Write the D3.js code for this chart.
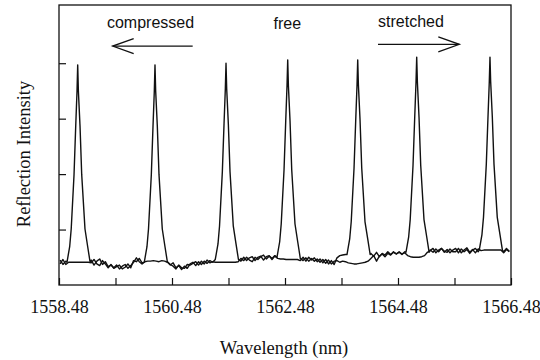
<!DOCTYPE html>
<html>
<head>
<meta charset="utf-8">
<script src="https://cdn.jsdelivr.net/npm/d3@7"></script>
<style>
  body { margin: 0; background: #fff; }
  #wrapper svg { display: block; }
</style>
</head>
<body>
<div id="wrapper"></div>
<script>
// x ticks every 1 nm, labels every 2 nm
const tickWavelengths = [1558.48, 1559.48, 1560.48, 1561.48, 1562.48, 1563.48, 1564.48, 1565.48, 1566.48];
const labelWavelengths = [1558.48, 1560.48, 1562.48, 1564.48, 1566.48];
const intensityTicks = [1, 2, 3, 4];

// baseline noise, sampled every 0.05 nm from 1558.50 nm
const baseStart = 1558.5;
const baseStep = 0.05;
const baseA = [
  0.45, 0.37, 0.43, 0.46, 0.40, 0.41, 0.41, 0.41, 0.41, 0.41, 0.41, 0.45, 0.36, 0.43, 0.47, 0.37, 0.42, 0.33, 0.36, 0.31,
  0.36, 0.29, 0.34, 0.37, 0.30, 0.35, 0.41, 0.49, 0.42, 0.38, 0.42, 0.43, 0.43, 0.44, 0.43, 0.42, 0.44, 0.43, 0.41, 0.36,
  0.40, 0.31, 0.35, 0.28, 0.34, 0.30, 0.38, 0.41, 0.35, 0.42, 0.37, 0.43, 0.39, 0.44, 0.41, 0.46, 0.46, 0.46, 0.46, 0.46,
  0.46, 0.46, 0.46, 0.46, 0.43, 0.50, 0.44, 0.49, 0.51, 0.44, 0.50, 0.52, 0.45, 0.51, 0.53, 0.46, 0.52, 0.48, 0.47, 0.47,
  0.46, 0.46, 0.46, 0.46, 0.46, 0.44, 0.50, 0.43, 0.50, 0.45, 0.49, 0.42, 0.47, 0.40, 0.46, 0.38, 0.44, 0.37, 0.49, 0.53,
  0.54, 0.55, 0.55, 0.55, 0.55, 0.55, 0.55, 0.55, 0.55, 0.55, 0.57, 0.52, 0.59, 0.51, 0.57, 0.54, 0.60, 0.55, 0.59, 0.56,
  0.60, 0.56, 0.58, 0.53, 0.51, 0.50, 0.50, 0.50, 0.51, 0.53, 0.59, 0.62, 0.66, 0.58, 0.63, 0.66, 0.59, 0.64, 0.58, 0.63,
  0.66, 0.58, 0.65, 0.60, 0.64, 0.57, 0.63, 0.66, 0.60, 0.63, 0.63, 0.63, 0.63, 0.63, 0.63, 0.63, 0.63, 0.60, 0.66, 0.61,
];
const baseB = [
  0.38, 0.46, 0.37, 0.41, 0.41, 0.41, 0.41, 0.41, 0.41, 0.41, 0.41, 0.40, 0.46, 0.38, 0.35, 0.44, 0.38, 0.31, 0.37, 0.30,
  0.33, 0.36, 0.29, 0.32, 0.38, 0.31, 0.44, 0.42, 0.48, 0.40, 0.41, 0.41, 0.41, 0.41, 0.41, 0.41, 0.41, 0.41, 0.42, 0.37,
  0.34, 0.29, 0.36, 0.31, 0.30, 0.37, 0.36, 0.39, 0.42, 0.36, 0.43, 0.38, 0.45, 0.40, 0.42, 0.41, 0.41, 0.41, 0.41, 0.41,
  0.41, 0.41, 0.41, 0.42, 0.48, 0.44, 0.50, 0.45, 0.42, 0.50, 0.46, 0.51, 0.54, 0.47, 0.52, 0.48, 0.53, 0.50, 0.50, 0.50,
  0.50, 0.50, 0.50, 0.50, 0.50, 0.48, 0.44, 0.49, 0.43, 0.48, 0.43, 0.47, 0.41, 0.46, 0.39, 0.45, 0.38, 0.43, 0.44, 0.41,
  0.43, 0.42, 0.40, 0.39, 0.38, 0.38, 0.39, 0.40, 0.41, 0.43, 0.48, 0.53, 0.43, 0.52, 0.56, 0.51, 0.57, 0.54, 0.60, 0.56,
  0.59, 0.55, 0.60, 0.59, 0.59, 0.59, 0.59, 0.59, 0.59, 0.59, 0.59, 0.63, 0.59, 0.65, 0.60, 0.66, 0.61, 0.59, 0.65, 0.60,
  0.60, 0.66, 0.58, 0.63, 0.67, 0.59, 0.64, 0.58, 0.65, 0.62, 0.63, 0.63, 0.63, 0.63, 0.63, 0.63, 0.63, 0.58, 0.64, 0.60,
];

// reflection peaks [wavelength nm, intensity]
const peak1 = [[1558.621,0.41],[1558.669,0.69],[1558.696,1.01],[1558.746,1.99],[1558.776,2.87],[1558.799,3.50],[1558.811,3.97],[1558.823,3.50],[1558.852,2.87],[1558.882,1.99],[1558.940,1.01],[1558.988,0.69],[1559.031,0.41]];
const peak2 = [[1559.989,0.41],[1560.037,0.69],[1560.064,1.01],[1560.114,1.99],[1560.144,2.87],[1560.167,3.50],[1560.179,3.97],[1560.191,3.50],[1560.220,2.87],[1560.250,1.99],[1560.308,1.01],[1560.356,0.69],[1560.399,0.41]];
const peak3 = [[1561.246,0.46],[1561.294,0.74],[1561.321,1.06],[1561.371,2.04],[1561.401,2.91],[1561.424,3.54],[1561.436,4.00],[1561.448,3.54],[1561.477,2.91],[1561.507,2.04],[1561.565,1.06],[1561.613,0.74],[1561.656,0.46]];
const peak4 = [[1562.338,0.50],[1562.386,0.78],[1562.413,1.10],[1562.463,2.08],[1562.493,2.96],[1562.516,3.60],[1562.528,4.06],[1562.540,3.60],[1562.569,2.96],[1562.599,2.08],[1562.657,1.10],[1562.705,0.78],[1562.748,0.50]];
const peak5 = [[1563.577,0.55],[1563.625,0.83],[1563.652,1.14],[1563.702,2.11],[1563.732,2.98],[1563.755,3.61],[1563.767,4.06],[1563.779,3.61],[1563.808,2.98],[1563.838,2.11],[1563.896,1.14],[1563.944,0.83],[1563.987,0.55]];
const peak6 = [[1564.621,0.59],[1564.669,0.87],[1564.696,1.18],[1564.746,2.16],[1564.776,3.03],[1564.799,3.66],[1564.811,4.11],[1564.823,3.66],[1564.852,3.03],[1564.882,2.16],[1564.940,1.18],[1564.988,0.87],[1565.031,0.59]];
const peak7 = [[1565.918,0.63],[1565.966,0.91],[1565.993,1.22],[1566.043,2.18],[1566.073,3.04],[1566.096,3.67],[1566.108,4.11],[1566.120,3.67],[1566.149,3.04],[1566.179,2.18],[1566.237,1.22],[1566.285,0.91],[1566.328,0.63]];

// annotations, in data units
const arrowCompressed = [[1560.846, 4.31], [1559.43, 4.31]];
const arrowStretched = [[1564.126, 4.34], [1565.565, 4.34]];
const labels = [
  { text: 'compressed', wl: 1560.10, v: 4.63 },
  { text: 'free', wl: 1562.52, v: 4.62 },
  { text: 'stretched', wl: 1564.71, v: 4.65 },
];

function buildTrace(base, peaks) {
  const windows = peaks.map((p) => [p[0][0], p[p.length - 1][0]]);
  const pts = base
    .map((v, i) => [baseStart + i * baseStep, v])
    .filter((d) => !windows.some((w) => d[0] >= w[0] && d[0] <= w[1]));
  return pts.concat(...peaks).sort((a, b) => a[0] - b[0]);
}

const traceA = buildTrace(baseA, [peak1, peak3, peak5, peak7]);
const traceB = buildTrace(baseB, [peak2, peak4, peak6]);

const width = 540;
let dimensions = {
  width: width,
  height: 360,
  margin: { top: 5, right: 29, bottom: 75, left: 59 },
};
dimensions.boundedWidth = dimensions.width - dimensions.margin.left - dimensions.margin.right;
dimensions.boundedHeight = dimensions.height - dimensions.margin.top - dimensions.margin.bottom;

const wrapper = d3.select('#wrapper')
  .append('svg')
  .attr('width', dimensions.width)
  .attr('height', dimensions.height);

const bounds = wrapper.append('g')
  .attr('transform', `translate(${dimensions.margin.left},${dimensions.margin.top})`);

const xScale = d3.scaleLinear()
  .domain([1558.48, 1566.48])
  .range([0, dimensions.boundedWidth]);

const yScale = d3.scaleLinear()
  .domain([0, 5.05])
  .range([dimensions.boundedHeight, 0]);

const serif = '"Liberation Serif", "DejaVu Serif", serif';
const sans = '"Liberation Sans", Arial, sans-serif';

// traces
const lineGenerator = d3.line()
  .x((d) => xScale(d[0]))
  .y((d) => yScale(d[1]));

bounds.selectAll('.trace')
  .data([traceB, traceA])
  .join('path')
  .attr('class', 'trace')
  .attr('d', lineGenerator)
  .attr('fill', 'none')
  .attr('stroke', '#111')
  .attr('stroke-width', 1.4)
  .attr('stroke-linejoin', 'round');

// axes
const xAxisGenerator = d3.axisBottom(xScale)
  .tickValues(tickWavelengths)
  .tickSize(-7)
  .tickPadding(15)
  .tickFormat((d) => labelWavelengths.some((l) => Math.abs(l - d) < 1e-6) ? d3.format('.2f')(d) : '');

const xAxis = bounds.append('g')
  .attr('transform', `translate(0,${dimensions.boundedHeight})`)
  .call(xAxisGenerator);
xAxis.attr('font-family', null);
xAxis.select('.domain').remove();
xAxis.selectAll('.tick line').attr('stroke', '#111').attr('stroke-width', 1.2);
xAxis.selectAll('.tick text')
  .attr('fill', '#111')
  .style('font-family', serif)
  .style('font-size', '18px');

const yAxisGenerator = d3.axisLeft(yScale)
  .tickValues(intensityTicks)
  .tickSize(-7)
  .tickFormat('');

const yAxis = bounds.append('g').call(yAxisGenerator);
yAxis.select('.domain').remove();
yAxis.selectAll('.tick line').attr('stroke', '#111').attr('stroke-width', 1.2);

// frame
bounds.append('rect')
  .attr('width', dimensions.boundedWidth)
  .attr('height', dimensions.boundedHeight)
  .attr('fill', 'none')
  .attr('stroke', '#111')
  .attr('stroke-width', 1.3);

// axis titles
wrapper.append('text')
  .attr('x', 284)
  .attr('y', 354)
  .attr('text-anchor', 'middle')
  .style('font-family', serif)
  .style('font-size', '18.5px')
  .attr('fill', '#111')
  .text('Wavelength (nm)');

wrapper.append('text')
  .attr('transform', 'translate(29.5,154) rotate(-90)')
  .attr('text-anchor', 'middle')
  .style('font-family', serif)
  .style('font-size', '18.5px')
  .attr('fill', '#111')
  .text('Reflection Intensity');

// annotations
bounds.selectAll('.note')
  .data(labels)
  .join('text')
  .attr('class', 'note')
  .attr('x', (d) => xScale(d.wl))
  .attr('y', (d) => yScale(d.v))
  .attr('text-anchor', 'middle')
  .style('font-family', sans)
  .style('font-size', '16px')
  .attr('fill', '#111')
  .text((d) => d.text);

const drawArrow = (pts) => {
  const [x0, y0] = [xScale(pts[0][0]), yScale(pts[0][1])];
  const [x1, y1] = [xScale(pts[1][0]), yScale(pts[1][1])];
  const dir = Math.sign(x1 - x0);
  const g = bounds.append('g')
    .attr('fill', 'none')
    .attr('stroke', '#111')
    .attr('stroke-width', 1.3);
  g.append('line').attr('x1', x0).attr('y1', y0).attr('x2', x1).attr('y2', y1);
  g.append('path')
    .attr('d', `M${x1 - dir * 21},${y1 - 7.5}L${x1},${y1}L${x1 - dir * 21},${y1 + 7.5}`);
};
drawArrow(arrowCompressed);
drawArrow(arrowStretched);
</script>
</body>
</html>
